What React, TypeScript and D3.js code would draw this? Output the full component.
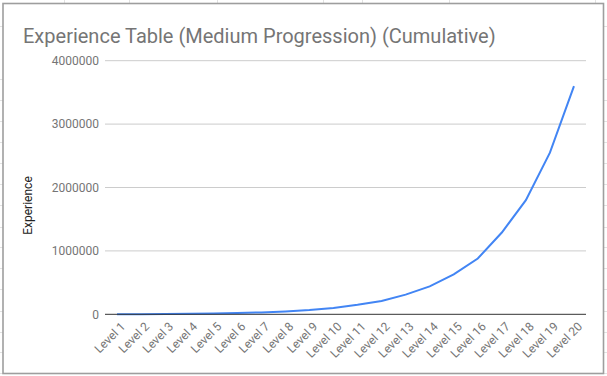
import React from "react";
import * as d3 from "d3";

const categories = [
  "Level 1", "Level 2", "Level 3", "Level 4", "Level 5", "Level 6", "Level 7", "Level 8", "Level 9", "Level 10",
  "Level 11", "Level 12", "Level 13", "Level 14", "Level 15", "Level 16", "Level 17", "Level 18", "Level 19", "Level 20",
];
const experience = [
  0, 1500, 4000, 7500, 12000, 19000, 30000, 45000, 68000, 100000,
  150000, 210000, 310000, 440000, 630000, 880000, 1290000, 1800000, 2550000, 3600000,
];
const yTicks = [0, 1000000, 2000000, 3000000, 4000000];
const title = "Experience Table (Medium Progression) (Cumulative)";
const yTitle = "Experience";

const sheetRowLines = [26, 79, 100, 121, 142, 163, 184, 205, 227, 247, 268, 289, 311, 332, 352, 373];
const sheetColLines = [64, 129, 217, 323, 362, 449, 595];

export default function App() {
  const W = 607, H = 376;
  const left = 105, right = 586, top = 60.7, bottom = 314.3;
  const x = d3.scaleBand<string>().domain(categories).range([left, right]);
  const y = d3.scaleLinear().domain([0, 4000000]).range([bottom, top]);
  const line = d3
    .line<number>()
    .x((_, i) => (x(categories[i]) as number) + x.bandwidth() / 2)
    .y((d) => y(d));
  const font = "Roboto, Arial, sans-serif";
  return (
    <svg
      width={W}
      height={H}
      style={{ position: "fixed", left: 0, top: 0, background: "#fff" }}
      fontFamily={font}
    >
      {sheetRowLines.map((ry) => (
        <g key={"r" + ry}>
          <line x1={0} x2={3} y1={ry + 0.5} y2={ry + 0.5} stroke="#e2e2e2" />
          <line x1={604} x2={607} y1={ry + 0.5} y2={ry + 0.5} stroke="#e2e2e2" />
        </g>
      ))}
      {sheetColLines.map((cx) => (
        <line key={"c" + cx} x1={cx + 0.5} x2={cx + 0.5} y1={0} y2={3} stroke="#e2e2e2" />
      ))}
      <rect x={3} y={3.5} width={600.5} height={370} fill="#fff" stroke="#9e9e9e" strokeWidth={1.6} />
      <text x={23} y={43} fontSize={20} fill="#757575">
        {title}
      </text>
      {yTicks.map((t) => (
        <g key={t}>
          {t !== 0 && (
            <line x1={left} x2={right} y1={y(t)} y2={y(t)} stroke="#cccccc" strokeWidth={1} />
          )}
          <text x={99} y={y(t)} dy="0.35em" textAnchor="end" fontSize={12} fill="#757575">
            {t}
          </text>
        </g>
      ))}
      <text
        transform={`translate(32, ${(top + bottom) / 2 + 18}) rotate(-90)`}
        textAnchor="middle"
        fontSize={12}
        fill="#222"
      >
        {yTitle}
      </text>
      <path d={line(experience) ?? ""} fill="none" stroke="#4285f4" strokeWidth={2} />
      <line x1={left} x2={right} y1={bottom} y2={bottom} stroke="#333" strokeWidth={1} />
      {categories.map((c) => {
        const cx = (x(c) as number) + x.bandwidth() / 2;
        return (
          <text
            key={c}
            transform={`translate(${cx + 6}, ${bottom + 10}) rotate(-45)`}
            textAnchor="end"
            dy="0.35em"
            fontSize={12}
            fill="#757575"
          >
            {c}
          </text>
        );
      })}
    </svg>
  );
}
